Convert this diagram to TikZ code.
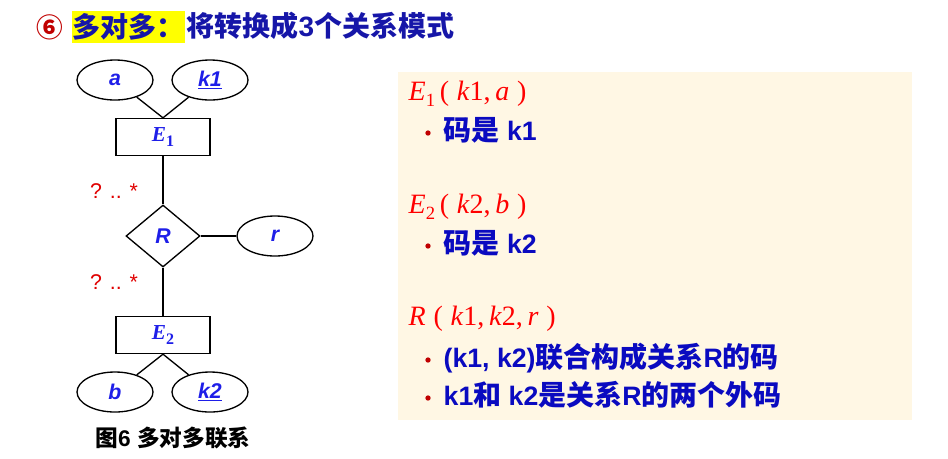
\documentclass[tikz,border=0pt]{standalone}
\usepackage{fontspec}
\newfontfamily\cjk{Noto Sans CJK SC}
\newfontfamily\lat{Liberation Sans}
\newfontfamily\tnr{Liberation Serif}
\usetikzlibrary{shapes.geometric}
\definecolor{titleblue}{HTML}{1616A8}
\definecolor{txtblue}{HTML}{0A0AC0}
\definecolor{lblblue}{HTML}{1E1EE8}
\definecolor{qred}{HTML}{E00000}
\definecolor{bulred}{HTML}{C00000}
\definecolor{panel}{HTML}{FFF7E4}
\definecolor{hlyellow}{HTML}{FFFF00}
\newcommand\zhtxt[1]{{\cjk\bfseries\fontsize{21pt}{23pt}\selectfont #1}}
\newcommand\entxt[1]{{\lat\bfseries\fontsize{20pt}{23pt}\selectfont #1}}
\newcommand\entlbl[1]{{\tnr\bfseries\itshape E}{\tnr\bfseries\fontsize{12pt}{12pt}\selectfont\raisebox{-4pt}{#1}}}
\newcommand\schsub[1]{{\fontsize{14pt}{14pt}\selectfont\raisebox{-4.5pt}{#1}}}
\begin{document}
\begin{tikzpicture}[x=0.75pt,y=-0.75pt,line width=1pt,
  attr/.style={ellipse,draw,minimum width=57pt,minimum height=30pt,inner sep=0pt,
    font=\lat\bfseries\itshape\fontsize{16pt}{18pt}\selectfont,text=lblblue},
  ent/.style={rectangle,draw,minimum width=70.5pt,minimum height=27.75pt,inner sep=0pt,
    font=\fontsize{16pt}{18pt}\selectfont,text=lblblue},
  rel/.style={diamond,draw,minimum width=55.5pt,minimum height=46.5pt,inner sep=0pt,
    font=\lat\bfseries\itshape\fontsize{16pt}{18pt}\selectfont,text=lblblue},
  card/.style={anchor=base,text=qred,font=\lat\fontsize{16pt}{18pt}\selectfont,inner sep=0pt},
  schema/.style={anchor=base west,text=red,font=\tnr\fontsize{21pt}{24pt}\selectfont,inner sep=0pt},
  item/.style={anchor=base west,text=txtblue,inner sep=0pt},
  bul/.style={circle,fill=bulred,inner sep=0pt,minimum size=4pt},
  ]
\useasboundingbox (0,0) rectangle (948,458);
% title
\node[text=bulred,font=\cjk\bfseries\fontsize{20pt}{22pt}\selectfont,inner sep=0pt] (six) at (50,27) {⑥};
\node[fill=hlyellow,minimum width=84.75pt,minimum height=24pt,inner sep=0pt,
  text=titleblue,font=\cjk\bfseries\fontsize{21pt}{23pt}\selectfont] (hl) at (128.5,27) {多对多：};
\node[anchor=west,inner sep=0pt,text=titleblue,font=\cjk\bfseries\fontsize{21pt}{23pt}\selectfont] (t2) at (186,26)
  {将转换成{\lat\bfseries 3}个关系模式};
% ER diagram
\node[attr] (a) at (115,80) {a};
\node[attr] (k1) at (210,80) {\underline{k1}};
\node[ent] (e1) at (163,137) {\entlbl{1}};
\node[rel] (r) at (163,236) {R};
\node[attr] (ra) at (275,236) {r};
\node[ent] (e2) at (163,335) {\entlbl{2}};
\node[attr] (b) at (115,392) {b};
\node[attr] (k2) at (210,392) {\underline{k2}};
\draw (a) -- (e1.north);
\draw (k1) -- (e1.north);
\draw (e1) -- (r);
\draw (r) -- (ra);
\draw (r) -- (e2);
\draw (e2.south) -- (b);
\draw (e2.south) -- (k2);
\node[card] (c1) at (114,198) {? .. *};
\node[card] (c2) at (114,289) {? .. *};
\node[font=\cjk\bfseries\fontsize{17pt}{19pt}\selectfont,inner sep=0pt] (cap) at (173,438)
  {图{\lat\bfseries 6}\hspace{5pt}多对多联系};
% right panel
\fill[panel] (398,72) rectangle (912,420);
\node[schema] (s1) at (408,100) {\textit{E}\schsub{1}\,(\;\textit{k}1,\,\textit{a}\;)};
\node[bul] (b1) at (428,133) {};
\node[item] (i1) at (443,140) {\zhtxt{码是}\entxt{ k1}};
\node[schema] (s2) at (408,213) {\textit{E}\schsub{2}\,(\;\textit{k}2,\,\textit{b}\;)};
\node[bul] (b2) at (428,246) {};
\node[item] (i2) at (443,253) {\zhtxt{码是}\entxt{ k2}};
\node[schema] (s3) at (408,325) {\textit{R}\;(\;\textit{k}1,\,\textit{k}2,\,\textit{r}\;)};
\node[bul] (b3) at (428,360) {};
\node[item] (i3) at (443,367) {\entxt{(k1, k2)}\zhtxt{联合构成关系}\entxt{R}\zhtxt{的码}};
\node[bul] (b4) at (428,398) {};
\node[item] (i4) at (443,405) {\entxt{k1}\zhtxt{和}\entxt{ k2}\zhtxt{是关系}\entxt{R}\zhtxt{的两个外码}};
\end{tikzpicture}
\end{document}
